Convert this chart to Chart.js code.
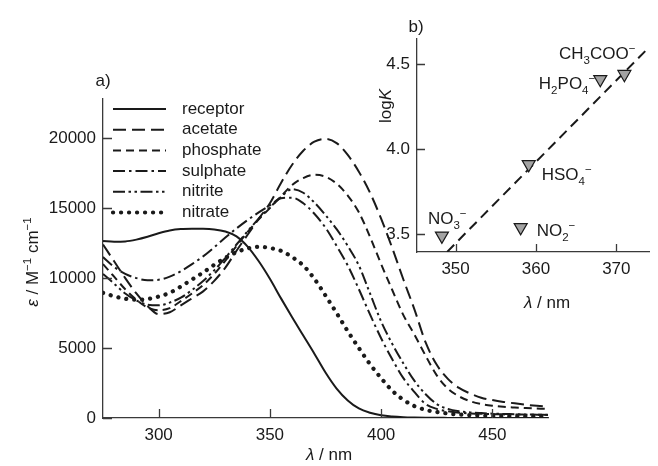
<!DOCTYPE html>
<html>
<head>
<meta charset="utf-8">
<script src="https://cdn.jsdelivr.net/npm/chart.js@4.4.1/dist/chart.umd.min.js"></script>
<style>
  html, body { margin: 0; padding: 0; background: #fff; }
  #wrap { position: relative; width: 658px; height: 466px; overflow: hidden; }
  #spectra { position: absolute; left: 0; top: 0; }
  #inset { position: absolute; left: 330px; top: 0; }
</style>
</head>
<body>
<div id="wrap">
  <canvas id="spectra" width="658" height="466"></canvas>
  <canvas id="inset" width="328" height="320"></canvas>
</div>
<script>
const FONT = "'Liberation Sans', Arial, sans-serif";
const INK  = '#1a1a1a';
const AXIS = '#3a3a3a';

// UV-vis spectra, sampled every 5 nm
const wavelength = [275, 280, 285, 290, 295, 300, 305, 310, 315, 320,
                    325, 330, 335, 340, 345, 350, 355, 360, 365, 370,
                    375, 380, 385, 390, 395, 400, 405, 410, 415, 420,
                    425, 430, 435, 440, 445, 450, 455, 460, 465, 470, 475];

const receptor  = [12650, 12600, 12620, 12750, 12950, 13200, 13400, 13500, 13520, 13520,
                   13480, 13330, 12980, 12250, 11200, 9950, 8550, 7200, 5900, 4600,
                   3250, 2100, 1250, 680, 380, 200, 110, 60, 35, 20,
                   12, 8, 5, 4, 3, 2, 2, 1, 1, 0, 0];
const acetate   = [12400, 11200, 10000, 8900, 8000, 7420, 7560, 8050, 8550, 9050,
                   9800, 10750, 11950, 13100, 14250, 15350, 16800, 18100, 19100, 19750,
                   19950, 19650, 18800, 17600, 16100, 14250, 12150, 9900, 7750, 5400,
                   3800, 2800, 2150, 1750, 1450, 1280, 1150, 1050, 950, 870, 800];
const phosphate = [11000, 10100, 9200, 8450, 7900, 7700, 7850, 8350, 8900, 9500,
                   10300, 11250, 12300, 13300, 14200, 15000, 15850, 16650, 17150, 17380,
                   17250, 16750, 15900, 14700, 12950, 11000, 9150, 7350, 5950, 4450,
                   3050, 2100, 1550, 1200, 1000, 880, 800, 750, 710, 680, 650];
const sulphate  = [11500, 10800, 10300, 10000, 9850, 9880, 10100, 10500, 11000, 11550,
                   12200, 12900, 13550, 14150, 14700, 15200, 15700, 15750, 15350, 14600,
                   13600, 12300, 10900, 9200, 7400, 5700, 4200, 2850, 1850, 1000,
                   650, 480, 380, 330, 300, 280, 260, 250, 240, 230, 220];
const nitrite   = [10300, 9600, 8900, 8400, 8100, 8050, 8250, 8600, 9150, 9800,
                   10550, 11450, 12400, 13350, 14250, 15050, 15800, 16350, 16100, 15400,
                   14500, 13500, 12300, 10900, 8900, 6900, 5300, 3900, 2650, 1700,
                   1000, 650, 480, 400, 350, 310, 290, 270, 250, 240, 230];
const nitrate   = [8950, 8700, 8520, 8450, 8500, 8680, 8950, 9400, 9900, 10400,
                   10950, 11450, 11850, 12120, 12240, 12150, 11950, 11500, 10900, 9950,
                   8750, 7500, 6200, 5000, 3850, 2850, 1950, 1300, 850, 580,
                   430, 320, 250, 200, 170, 150, 140, 130, 120, 110, 100];

const seriesNames = ['receptor', 'acetate', 'phosphate', 'sulphate', 'nitrite', 'nitrate'];
const seriesData  = [receptor, acetate, phosphate, sulphate, nitrite, nitrate];
const xTicks = [300, 350, 400, 450];
const yTicks = [0, 5000, 10000, 15000, 20000];

// log K against the band maximum of each complex
const anionLabels = [
  [['NO'], ['3', 'sub'], ['\u2212', 'sup']],
  [['NO'], ['2', 'sub'], ['\u2212', 'sup']],
  [['HSO'], ['4', 'sub'], ['\u2212', 'sup']],
  [['H'], ['2', 'sub'], ['PO'], ['4', 'sub'], ['\u2212', 'sup']],
  [['CH'], ['3', 'sub'], ['COO'], ['\u2212', 'sup']]
];
const bandMax = [348.3, 358.1, 359.1, 368.0, 371.0];
const logK    = [3.49, 3.54, 3.91, 4.41, 4.44];
const fitLambda = [348.95, 374.1];
const fitLogK   = [3.396, 4.60];
const insetXTicks = [350, 360, 370];
const insetYTicks = [3.5, 4.0, 4.5];

// how each curve is stroked
const lineStyles = [
  { dash: [],                          width: 2 },
  { dash: [13, 6],                     width: 2 },
  { dash: [8, 5],                      width: 2 },
  { dash: [12, 4, 2.5, 4],             width: 2 },
  { dash: [12, 3.5, 2.5, 3.5, 2.5, 3.5], width: 2 },
  { dash: [0.1, 7.9],                  width: 4.2, cap: 'round' }
];

// where each anion name sits relative to its marker
const labelPlace = [
  { dx: -14, dy: -12, align: 'left' },
  { dx: 16,  dy: 9,   align: 'left' },
  { dx: 13,  dy: 16,  align: 'left' },
  { dx: -5,  dy: 10,  align: 'right' },
  { dx: 11,  dy: -15, align: 'right' }
];

// text with italics, subscripts and superscripts
function drawRich(ctx, parts, x, y, size, align) {
  const runs = parts.map(([text, kind]) => {
    const small = kind === 'sub' || kind === 'sup';
    const font = (kind === 'i' ? 'italic ' : '') + (small ? size * 0.68 : size) + 'px ' + FONT;
    ctx.font = font;
    const dy = kind === 'sub' ? size * 0.3 : kind === 'sup' ? -size * 0.42 : 0;
    return { text, font, dy, w: ctx.measureText(text).width };
  });
  const total = runs.reduce((s, r) => s + r.w, 0);
  let cx = align === 'right' ? x - total : align === 'center' ? x - total / 2 : x;
  ctx.textAlign = 'left';
  ctx.textBaseline = 'alphabetic';
  runs.forEach(r => { ctx.font = r.font; ctx.fillText(r.text, cx, y + r.dy); cx += r.w; });
}

// tick marks pointing into the plot
const innerTicks = {
  id: 'innerTicks',
  afterDatasetsDraw(chart, args, opts) {
    const { ctx, chartArea, scales: { x, y } } = chart;
    ctx.save();
    ctx.strokeStyle = AXIS;
    ctx.lineWidth = 1.3;
    ctx.beginPath();
    x.ticks.forEach(t => {
      const px = Math.round(x.getPixelForValue(t.value)) + 0.5;
      ctx.moveTo(px, chartArea.bottom);
      ctx.lineTo(px, chartArea.bottom - opts.len);
    });
    y.ticks.forEach(t => {
      const py = Math.round(y.getPixelForValue(t.value)) + 0.5;
      ctx.moveTo(chartArea.left, py);
      ctx.lineTo(chartArea.left + opts.len, py);
    });
    ctx.stroke();
    ctx.restore();
  }
};

function axisOptions(min, max, ticks, fmt, fit) {
  return {
    type: 'linear', min, max,
    afterBuildTicks: s => { s.ticks = ticks.map(v => ({ value: v })); },
    afterFit: fit,
    grid: { display: false, drawTicks: false },
    border: { color: AXIS, width: 1.3 },
    ticks: { color: INK, font: { family: FONT, size: 17 }, padding: 7,
             autoSkip: false, maxRotation: 0, callback: fmt }
  };
}

function drawSpectra() {
  const datasets = seriesData.map((vals, i) => ({
    label: seriesNames[i],
    data: wavelength.map((w, j) => ({ x: w, y: vals[j] })),
    borderColor: INK,
    borderWidth: lineStyles[i].width,
    borderDash: lineStyles[i].dash,
    borderCapStyle: lineStyles[i].cap || 'butt',
    pointRadius: 0,
    cubicInterpolationMode: 'monotone',
    fill: false
  }));

  const decorations = {
    id: 'spectraText',
    afterDraw(chart) {
      const ctx = chart.ctx;
      ctx.save();
      ctx.fillStyle = INK;
      // legend
      chart.data.datasets.forEach((ds, i) => {
        const ly = 109 + i * 20.7;
        ctx.save();
        ctx.strokeStyle = INK;
        ctx.lineWidth = ds.borderWidth;
        ctx.lineCap = ds.borderCapStyle;
        ctx.setLineDash(ds.borderDash);
        ctx.beginPath();
        ctx.moveTo(113, ly);
        ctx.lineTo(166, ly);
        ctx.stroke();
        ctx.restore();
        ctx.font = '17px ' + FONT;
        ctx.textAlign = 'left';
        ctx.textBaseline = 'middle';
        ctx.fillText(ds.label, 182, ly);
      });
      drawRich(ctx, [['a)']], 103, 86, 17, 'center');
      drawRich(ctx, [['\u03bb', 'i'], [' / nm']], 329, 460, 17, 'center');
      ctx.translate(32, 262);
      ctx.rotate(-Math.PI / 2);
      drawRich(ctx, [['\u03b5', 'i'], [' / M'], ['\u22121', 'sup'], [' cm'], ['\u22121', 'sup']], 0, 6, 17, 'center');
      ctx.restore();
    }
  };

  new Chart(document.getElementById('spectra'), {
    type: 'line',
    data: { datasets },
    options: {
      responsive: false,
      animation: false,
      devicePixelRatio: 1,
      layout: { padding: { left: 0, top: 99, right: 110, bottom: 0 } },
      plugins: { legend: { display: false }, tooltip: { enabled: false }, innerTicks: { len: 9 } },
      scales: {
        x: axisOptions(275, 475, xTicks, v => String(v), s => { s.height = 48; }),
        y: axisOptions(0, 22800, yTicks, v => String(v), s => { s.width = 103; })
      }
    },
    plugins: [innerTicks, decorations]
  });
}

function drawInset() {
  const labels = {
    id: 'insetText',
    afterDraw(chart) {
      const { ctx, scales: { x, y } } = chart;
      ctx.save();
      ctx.fillStyle = INK;
      anionLabels.forEach((parts, i) => {
        const px = x.getPixelForValue(bandMax[i]);
        const py = y.getPixelForValue(logK[i]);
        const p = labelPlace[i];
        drawRich(ctx, parts, px + p.dx, py + p.dy, 17, p.align);
      });
      drawRich(ctx, [['b)']], 86, 32, 17, 'center');
      drawRich(ctx, [['\u03bb', 'i'], [' / nm']], 217, 308, 17, 'center');
      ctx.translate(55, 106);
      ctx.rotate(-Math.PI / 2);
      drawRich(ctx, [['log'], ['K', 'i']], 0, 6, 17, 'center');
      ctx.restore();
    }
  };

  new Chart(document.getElementById('inset'), {
    type: 'scatter',
    data: {
      datasets: [
        {
          data: bandMax.map((v, i) => ({ x: v, y: logK[i] })),
          pointStyle: 'triangle',
          rotation: 180,
          pointRadius: 7.5,
          backgroundColor: '#a3a3a3',
          borderColor: INK,
          borderWidth: 1.2
        },
        {
          data: fitLambda.map((v, i) => ({ x: v, y: fitLogK[i] })),
          showLine: true,
          pointRadius: 0,
          borderColor: INK,
          borderWidth: 2,
          borderDash: [10, 6]
        }
      ]
    },
    options: {
      responsive: false,
      animation: false,
      devicePixelRatio: 1,
      layout: { padding: { left: 0, top: 39, right: 0, bottom: 0 } },
      plugins: { legend: { display: false }, tooltip: { enabled: false }, innerTicks: { len: 8 } },
      scales: {
        x: axisOptions(345.2, 374.1, insetXTicks, v => String(v), s => { s.height = 68; }),
        y: axisOptions(3.395, 4.647, insetYTicks, v => v.toFixed(1), s => { s.width = 87; })
      }
    },
    plugins: [innerTicks, labels]
  });
}

drawSpectra();
drawInset();
</script>
</body>
</html>
